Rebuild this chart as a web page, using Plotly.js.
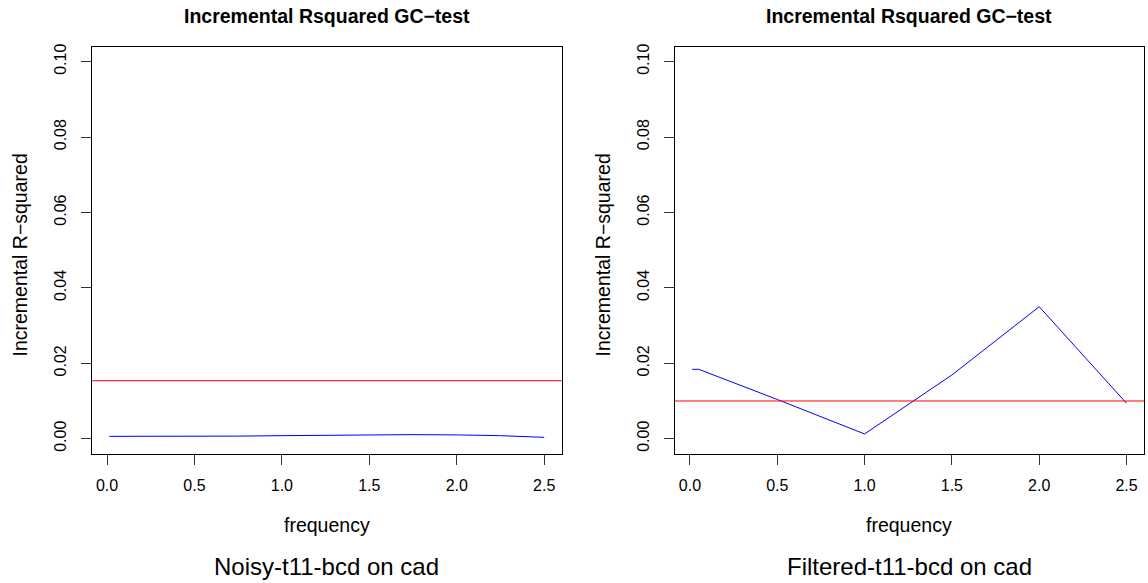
<!DOCTYPE html>
<html>
<head>
<meta charset="utf-8">
<script src="https://cdn.plot.ly/plotly-3.0.1.min.js"></script>
<style>
  html, body { margin: 0; padding: 0; background: #fff; }
  #plot { width: 1148px; height: 583px; }
</style>
</head>
<body>
<div id="plot"></div>
<script>
// left panel: noisy series
var noisyFreq = [0.0125, 0.25, 0.5, 0.75, 1.0, 1.25, 1.5, 1.75, 2.0, 2.25, 2.5];
var noisyR2 = [0.00062, 0.0006, 0.0006, 0.00068, 0.0008, 0.00095, 0.00105, 0.00107, 0.001, 0.0008, 0.00035];
var noisyThreshold = 0.01538;

// right panel: filtered series
var filteredFreq = [0.0125, 0.05, 0.5, 1.0, 1.5, 2.0, 2.5];
var filteredR2 = [0.0184, 0.0184, 0.0104, 0.00125, 0.0169, 0.0350, 0.0094];
var filteredThreshold = 0.0100;

var mainTitle = 'Incremental Rsquared GC\u2212test';
var yTitle = 'Incremental R\u2212squared';
var xTitle = 'frequency';
var subTitles = ['Noisy-t11-bcd on cad', 'Filtered-t11-bcd on cad'];

var yTicks = [0, 0.02, 0.04, 0.06, 0.08, 0.10];
var xTicks = [0, 0.5, 1.0, 1.5, 2.0, 2.5];

var font = 'Liberation Sans, Arial, Helvetica, sans-serif';

function xAxis(domain, anchor) {
  return {
    domain: domain,
    anchor: anchor,
    range: [-0.0875, 2.6],
    tickvals: xTicks,
    tickformat: '.1f',
    ticks: 'outside',
    ticklen: 10,
    tickcolor: '#333',
    showline: true,
    mirror: true,
    linecolor: '#000',
    linewidth: 1,
    showgrid: false,
    zeroline: false,
    tickfont: { family: font, size: 16, color: '#000' },
    ticklabelstandoff: 7
  };
}

function yAxis(anchor) {
  return {
    domain: [0.2213, 0.9194],
    anchor: anchor,
    range: [-0.00406, 0.1039],
    tickvals: yTicks,
    tickformat: '.2f',
    tickangle: -90,
    ticks: 'outside',
    ticklen: 10,
    tickcolor: '#333',
    showline: true,
    mirror: true,
    linecolor: '#000',
    linewidth: 1,
    showgrid: false,
    zeroline: false,
    tickfont: { family: font, size: 16, color: '#000' },
    ticklabelstandoff: 8
  };
}

var traces = [
  { x: noisyFreq, y: noisyR2, xaxis: 'x', yaxis: 'y', mode: 'lines',
    line: { color: '#0000ff', width: 1 }, hoverinfo: 'skip' },
  { x: filteredFreq, y: filteredR2, xaxis: 'x2', yaxis: 'y2', mode: 'lines',
    line: { color: '#0000ff', width: 1 }, hoverinfo: 'skip' }
];

// abline(h = threshold) across the full plot box
var shapes = [
  { type: 'line', xref: 'x domain', yref: 'y', x0: 0, x1: 1,
    y0: noisyThreshold, y1: noisyThreshold, line: { color: '#ff0000', width: 1 } },
  { type: 'line', xref: 'x2 domain', yref: 'y2', x0: 0, x1: 1,
    y0: filteredThreshold, y1: filteredThreshold, line: { color: '#ff0000', width: 1 } }
];

var centers = [0.2846, 0.7921];
var yTitleX = [19.5 / 1148, 602.5 / 1148];
var annotations = [];
for (var i = 0; i < 2; i++) {
  annotations.push({ text: '<b>' + mainTitle + '</b>', xref: 'paper', yref: 'paper',
    x: centers[i], y: 1 - 16 / 583, xanchor: 'center', yanchor: 'middle', showarrow: false,
    font: { family: font, size: 19.5, color: '#000' } });
  annotations.push({ text: yTitle, xref: 'paper', yref: 'paper', textangle: -90,
    x: yTitleX[i], y: 1 - 255 / 583, xanchor: 'center', yanchor: 'middle', showarrow: false,
    font: { family: font, size: 19.5, color: '#000' } });
  annotations.push({ text: xTitle, xref: 'paper', yref: 'paper',
    x: centers[i], y: 1 - 525 / 583, xanchor: 'center', yanchor: 'middle', showarrow: false,
    font: { family: font, size: 19.5, color: '#000' } });
  annotations.push({ text: subTitles[i], xref: 'paper', yref: 'paper',
    x: centers[i], y: 1 - 566 / 583, xanchor: 'center', yanchor: 'middle', showarrow: false,
    font: { family: font, size: 24, color: '#000' } });
}

var layout = {
  width: 1148,
  height: 583,
  margin: { l: 0, r: 0, t: 0, b: 0 },
  paper_bgcolor: '#fff',
  plot_bgcolor: '#fff',
  showlegend: false,
  xaxis: xAxis([0.0799, 0.4893], 'y'),
  yaxis: yAxis('x'),
  xaxis2: xAxis([0.5877, 0.9965], 'y2'),
  yaxis2: yAxis('x2'),
  shapes: shapes,
  annotations: annotations
};

Plotly.newPlot('plot', traces, layout, { staticPlot: true });
</script>
</body>
</html>
